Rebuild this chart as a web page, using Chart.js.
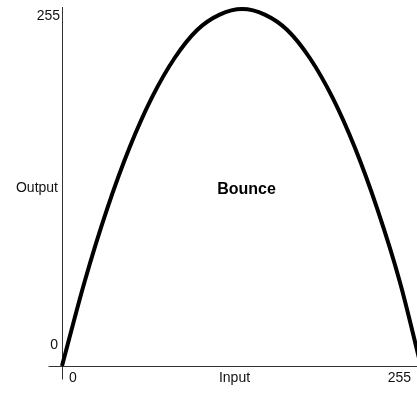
<!DOCTYPE html>
<html>
<head>
<meta charset="utf-8">
<script src="https://cdn.jsdelivr.net/npm/chart.js@4"></script>
<style>
  html, body { margin: 0; padding: 0; background: #fff; overflow: hidden; }
  #wrap { position: absolute; left: 0; top: 0; }
</style>
</head>
<body>
<div id="wrap"><canvas id="myChart" width="430" height="394"></canvas></div>
<script>
const ctx = document.getElementById('myChart').getContext("2d");

// curve samples: input level -> output level
const inputs  = [0, 16, 32, 48, 64, 80, 96, 112, 128, 144, 160, 176, 192, 208, 224, 240, 255];
const outputs = [0, 60, 112, 156, 192, 220, 240, 251, 255, 251, 240, 220, 192, 156, 112, 60, 0];

const xTicks = ["0", "Input", "255"];
const yTicks = ["0", "Output", "255"];
const title = "Bounce";

const axisColor = "#333";
const font = "14px 'Liberation Sans', Arial, sans-serif";

// axes + labels drawn by hand so they can sit where the old dialog put them
const axesPlugin = {
    id: 'axes',
    beforeDatasetsDraw(chart) {
        const c = chart.ctx;
        const x = chart.scales.x, y = chart.scales.y;
        const x0 = Math.round(x.getPixelForValue(0)) + 0.5;
        const y0 = Math.round(y.getPixelForValue(0)) + 0.5;
        const yTop = Math.round(y.getPixelForValue(255)) - 2;
        c.save();
        c.strokeStyle = axisColor;
        c.lineWidth = 1;
        c.beginPath();
        c.moveTo(x0, yTop);
        c.lineTo(x0, y0 + 13);
        c.moveTo(x0 - 14, y0);
        c.lineTo(chart.width, y0);
        c.stroke();
        c.restore();
    },
    afterDraw(chart) {
        const c = chart.ctx;
        const x = chart.scales.x, y = chart.scales.y;
        const x0 = x.getPixelForValue(0), x1 = x.getPixelForValue(255);
        const y0 = y.getPixelForValue(0), y1 = y.getPixelForValue(255);
        c.save();
        c.fillStyle = "#111";
        c.font = font;
        c.textBaseline = "middle";

        // y labels
        c.textAlign = "right";
        c.fillText(yTicks[0], x0 - 4, y0 - 21);
        c.fillText(yTicks[1], x0 - 4, (y0 + y1) / 2 + 1);
        c.fillText(yTicks[2], x0 - 2, y1 + 7);

        // x labels
        c.textAlign = "left";
        c.fillText(xTicks[0], x0 + 7, y0 + 12);
        c.textAlign = "center";
        c.fillText(xTicks[1], (x0 + x1) / 2 - 7, y0 + 12);
        c.textAlign = "right";
        c.fillText(xTicks[2], x1 - 10, y0 + 12);

        // curve name
        c.fillStyle = "#000";
        c.font = "bold 16px 'Liberation Sans', Arial, sans-serif";
        c.textAlign = "center";
        c.fillText(title, (x0 + x1) / 2 + 5, (y0 + y1) / 2 + 2);
        c.restore();
    }
};

const data = {
    datasets: [{
        data: inputs.map((v, i) => ({ x: v, y: outputs[i] })),
        borderColor: "#000",
        borderWidth: 4,
        pointRadius: 0,
        fill: false,
        cubicInterpolationMode: 'monotone',
        clip: false,
    }],
};

const config = {
    type: 'line',
    data: data,
    options: {
        responsive: false,
        animation: false,
        layout: { padding: { left: 62, right: 9, top: 9, bottom: 28 } },
        plugins: { legend: { display: false }, tooltip: { enabled: false } },
        scales: {
            x: { type: 'linear', min: 0, max: 255, display: false },
            y: { min: 0, max: 255, display: false },
        },
    },
    plugins: [axesPlugin],
};

const myChart = new Chart(ctx, config);
</script>
</body>
</html>
